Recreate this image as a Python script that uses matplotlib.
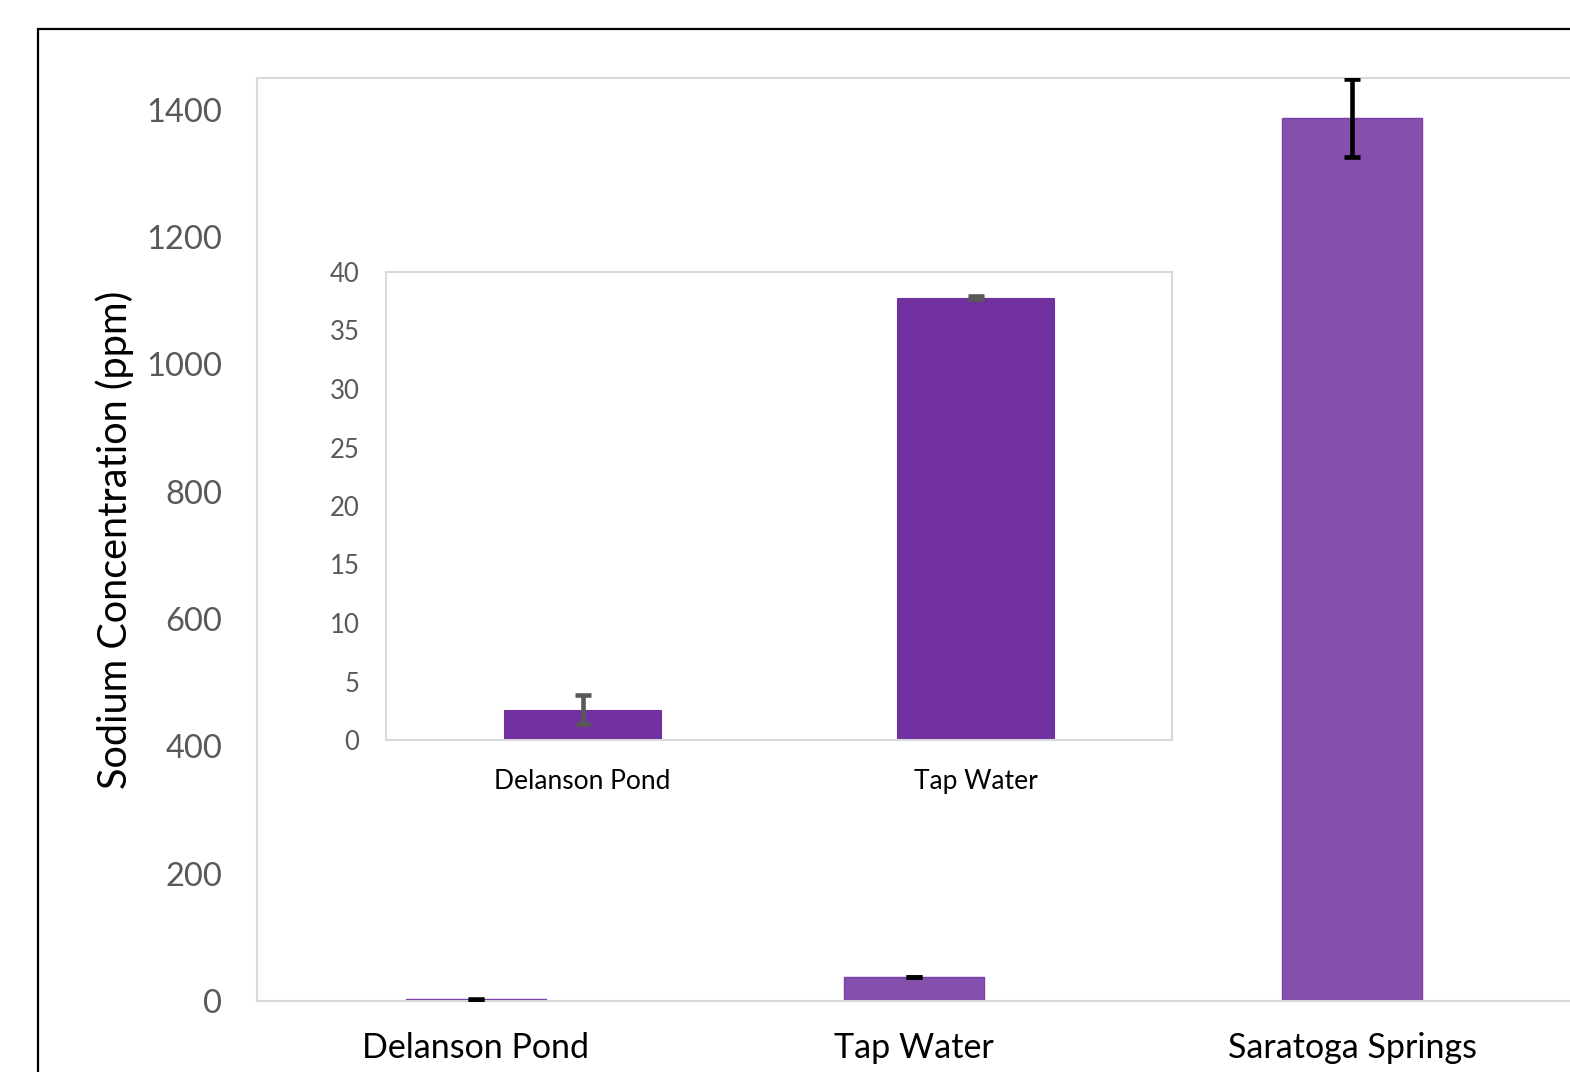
import matplotlib
matplotlib.use("Agg")
import matplotlib.pyplot as plt
from matplotlib.patches import Rectangle

plt.rcParams['font.family'] = ['Lato', 'DejaVu Sans']

# Sodium concentration by water source (ppm), mean and standard deviation
sources = ["Delanson Pond", "Tap Water", "Saratoga Springs"]
sodium_ppm = [2.6, 37.8, 1387.0]
sodium_err = [1.25, 0.15, 61.0]

# Low-concentration sources shown in the inset
inset_sources = ["Delanson Pond", "Tap Water"]
inset_ppm = [2.6, 37.8]
inset_err = [1.25, 0.15]

main_ticks = [0, 200, 400, 600, 800, 1000, 1200, 1400]
inset_ticks = [0, 5, 10, 15, 20, 25, 30, 35, 40]

W, H = 1570, 1072
fig = plt.figure(figsize=(W / 100, H / 100), dpi=100)

# Outer frame of the chart object
fig.patches.append(Rectangle((38 / W, 0 - 0.05), 1.2, 1 - 29 / H + 0.05,
                             transform=fig.transFigure, fill=False,
                             edgecolor='black', linewidth=1.6, zorder=0))

border = '#D9D9D9'
grey_txt = '#595959'

# Main chart
ax = fig.add_axes([257 / W, 1 - 1001 / H, (1571 - 257) / W, (1001 - 78) / H])
x = range(len(sources))
ax.bar(x, sodium_ppm, width=0.32, color='#844FAD', edgecolor='#7A3FAA',
       linewidth=1.0, zorder=2)
ax.errorbar(x, sodium_ppm, yerr=sodium_err, fmt='none', ecolor='black',
            elinewidth=3.3, capsize=6, capthick=3.3, zorder=3)
ax.set_xlim(-0.5, 2.5)
ax.set_ylim(0, 1450)
ax.set_yticks(main_ticks)
ax.set_yticklabels([str(t) for t in main_ticks], fontsize=23.5, color=grey_txt)
ax.set_xticks(list(x))
ax.set_xticklabels(sources, fontsize=24.5, color='black')
ax.tick_params(axis='both', length=0)
ax.tick_params(axis='y', pad=25)
ax.tick_params(axis='x', pad=22)
for s in ax.spines.values():
    s.set_color(border)
    s.set_linewidth(1.5)
fig.text(115 / W, 1 - 540 / H, "Sodium Concentration (ppm)", fontsize=28.5,
         color='black', rotation=90, ha='center', va='center')

# Inset chart for the two low-sodium sources
ins = fig.add_axes([386 / W, 1 - 740 / H, (1172 - 386) / W, (740 - 272) / H])
xi = range(len(inset_sources))
ins.bar(xi, inset_ppm, width=0.40, color='#7030A0', edgecolor='#7030A0',
        linewidth=0.8, zorder=2)
ins.errorbar(xi, inset_ppm, yerr=inset_err, fmt='none', ecolor=grey_txt,
             elinewidth=3.3, capsize=6, capthick=3.3, zorder=3)
ins.set_xlim(-0.5, 1.5)
ins.set_ylim(0, 40)
ins.set_yticks(inset_ticks)
ins.set_yticklabels([str(t) for t in inset_ticks], fontsize=18.5, color=grey_txt)
ins.set_xticks(list(xi))
ins.set_xticklabels(inset_sources, fontsize=19, color='black')
ins.tick_params(axis='both', length=0)
ins.tick_params(axis='y', pad=19)
ins.tick_params(axis='x', pad=21)
for s in ins.spines.values():
    s.set_color(border)
    s.set_linewidth(1.5)

fig.savefig("out.png", dpi=100)
